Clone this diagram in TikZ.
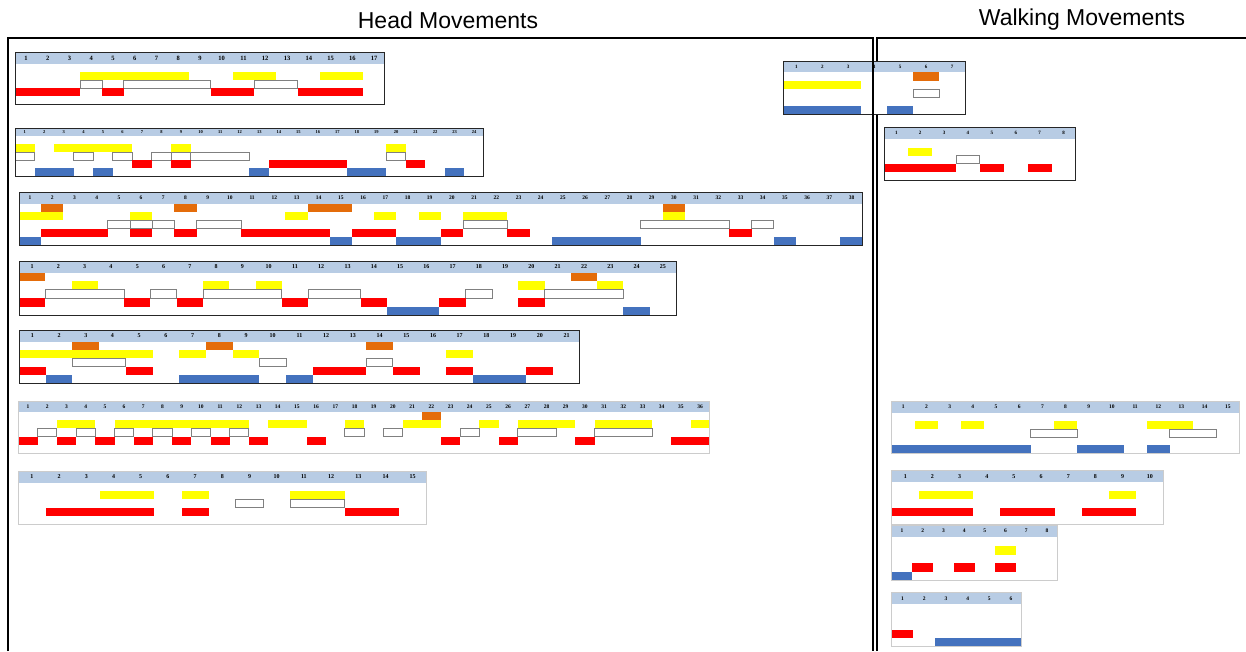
\documentclass[tikz,border=0pt]{standalone}
\usepackage{fontspec}
\setmainfont{Liberation Sans}
\newfontfamily\numfont{Liberation Serif}
\usetikzlibrary{positioning}
\definecolor{hdrblue}{RGB}{184,204,228}
\definecolor{barorange}{RGB}{228,108,10}
\definecolor{baryellow}{RGB}{255,255,0}
\definecolor{barred}{RGB}{255,0,0}
\definecolor{barblue}{RGB}{68,114,190}
\definecolor{boxgray}{RGB}{128,128,128}

% panel geometry: left, top, column width, header height, row height
\newcommand{\setpanel}[5]{\def\pX{#1}\def\pY{#2}\def\pW{#3}\def\pH{#4}\def\pR{#5}}
% one bar: style, row, first column, last column
\newcommand{\seg}[4]{\path[#1] ({\pX+(#3-1)*\pW},{\pY+\pH+(#2-1)*\pR})
  rectangle ({\pX+#4*\pW},{\pY+\pH+#2*\pR});}
% blank panel, then header strip with the column numbers
\newcommand{\panelhead}[3]{%
  \fill[white] (\pX,\pY) rectangle ({\pX+#2*\pW},{\pY+\pH+5*\pR});
  \fill[hdr] (\pX,\pY) rectangle ({\pX+#2*\pW},{\pY+\pH});
  \foreach \i in {1,...,#2}
    \node[num, font=\numfont\bfseries\fontsize{#3}{#3}\selectfont]
      (#1-\i) at ({\pX+(\i-0.5)*\pW},{\pY+\pH/2}) {\i};}
\newcommand{\panelframe}[2]{\draw[#2] (\pX,\pY) rectangle ({\pX+#1*\pW},{\pY+\pH+5*\pR});}

\begin{document}
\begin{tikzpicture}[
  x=1pt, y=-1pt,
  title/.style={font=\fontsize{23}{27}\selectfont},
  hdr/.style={fill=hdrblue},
  num/.style={inner sep=0pt},
  obar/.style={fill=barorange},
  ybar/.style={fill=baryellow},
  wbox/.style={fill=white, draw=boxgray, line width=0.9pt},
  rbar/.style={fill=barred},
  bbar/.style={fill=barblue},
  darkframe/.style={draw=black!85, line width=1pt},
  lightframe/.style={draw=black!20, line width=0.9pt},
  outline/.style={draw=black, line width=1.2pt},
]
\useasboundingbox (0,0) rectangle (1246,651);

\node[title] (headtitle) at (448,20) {Head Movements};
\node[title] (walktitle) at (1082,20) {Walking Movements};

\draw[outline] (877,651) -- (877,38) -- (1246,38);

% head movements
\setpanel{15}{52}{21.76}{12}{8}
\panelhead{ha}{17}{6.5}
\foreach \a/\b in {4/8, 11/12, 15/16} {\seg{ybar}{2}{\a}{\b}}
\foreach \a/\b in {4/4, 6/9, 12/13} {\seg{wbox}{3}{\a}{\b}}
\foreach \a/\b in {1/3, 5/5, 10/11, 14/16} {\seg{rbar}{4}{\a}{\b}}
\panelframe{17}{darkframe}

\setpanel{15}{128}{19.54}{8}{8}
\panelhead{hb}{24}{4.5}
\foreach \a/\b in {1/1, 3/6, 9/9, 20/20} {\seg{ybar}{2}{\a}{\b}}
\foreach \a/\b in {1/1, 4/4, 6/6, 8/8, 9/9, 10/12, 20/20} {\seg{wbox}{3}{\a}{\b}}
\foreach \a/\b in {7/7, 9/9, 14/17, 21/21} {\seg{rbar}{4}{\a}{\b}}
\foreach \a/\b in {2/3, 5/5, 13/13, 18/19, 23/23} {\seg{bbar}{5}{\a}{\b}}
\panelframe{24}{darkframe}

\setpanel{19}{192}{22.2}{12}{8.2}
\panelhead{hc}{38}{5.5}
\foreach \a/\b in {2/2, 8/8, 14/15, 30/30} {\seg{obar}{1}{\a}{\b}}
\foreach \a/\b in {1/2, 6/6, 13/13, 17/17, 19/19, 21/22, 30/30} {\seg{ybar}{2}{\a}{\b}}
\foreach \a/\b in {5/5, 6/6, 7/7, 9/10, 21/22, 29/32, 34/34} {\seg{wbox}{3}{\a}{\b}}
\foreach \a/\b in {2/4, 6/6, 8/8, 11/14, 16/17, 20/20, 23/23, 33/33} {\seg{rbar}{4}{\a}{\b}}
\foreach \a/\b in {1/1, 15/15, 18/19, 25/28, 35/35, 38/38} {\seg{bbar}{5}{\a}{\b}}
\panelframe{38}{darkframe}

\setpanel{19}{261}{26.28}{12}{8.4}
\panelhead{hd}{25}{6}
\foreach \a/\b in {1/1, 22/22} {\seg{obar}{1}{\a}{\b}}
\foreach \a/\b in {3/3, 8/8, 10/10, 20/20, 23/23} {\seg{ybar}{2}{\a}{\b}}
\foreach \a/\b in {2/4, 6/6, 8/10, 12/13, 18/18, 21/23} {\seg{wbox}{3}{\a}{\b}}
\foreach \a/\b in {1/1, 5/5, 7/7, 11/11, 14/14, 17/17, 20/20} {\seg{rbar}{4}{\a}{\b}}
\foreach \a/\b in {15/16, 24/24} {\seg{bbar}{5}{\a}{\b}}
\panelframe{25}{darkframe}

\setpanel{19}{330}{26.71}{12}{8.2}
\panelhead{he}{21}{6}
\foreach \a/\b in {3/3, 8/8, 14/14} {\seg{obar}{1}{\a}{\b}}
\foreach \a/\b in {1/5, 7/7, 9/9, 17/17} {\seg{ybar}{2}{\a}{\b}}
\foreach \a/\b in {3/4, 10/10, 14/14} {\seg{wbox}{3}{\a}{\b}}
\foreach \a/\b in {1/1, 5/5, 12/13, 15/15, 17/17, 20/20} {\seg{rbar}{4}{\a}{\b}}
\foreach \a/\b in {2/2, 7/9, 11/11, 18/19} {\seg{bbar}{5}{\a}{\b}}
\panelframe{21}{darkframe}

\setpanel{18.5}{401}{19.2}{11}{8.2}
\panelhead{hf}{36}{5.5}
\seg{obar}{1}{22}{22}
\foreach \a/\b in {3/4, 6/12, 14/15, 18/18, 21/22, 25/25, 27/29, 31/33, 36/36} {\seg{ybar}{2}{\a}{\b}}
\foreach \a/\b in {2/2, 4/4, 6/6, 8/8, 10/10, 12/12, 18/18, 20/20, 24/24, 27/28, 31/33} {\seg{wbox}{3}{\a}{\b}}
\foreach \a/\b in {1/1, 3/3, 5/5, 7/7, 9/9, 11/11, 13/13, 16/16, 23/23, 26/26, 30/30, 35/36} {\seg{rbar}{4}{\a}{\b}}
\panelframe{36}{lightframe}

\setpanel{18.3}{471}{27.2}{12}{8.2}
\panelhead{hg}{15}{6}
\foreach \a/\b in {4/5, 7/7, 11/12} {\seg{ybar}{2}{\a}{\b}}
\foreach \a/\b in {9/9, 11/12} {\seg{wbox}{3}{\a}{\b}}
\foreach \a/\b in {2/5, 7/7, 13/14} {\seg{rbar}{4}{\a}{\b}}
\panelframe{15}{lightframe}

% walking movements
\setpanel{783.3}{61}{25.96}{11.3}{8.4}
\panelhead{wa}{7}{5}
\seg{obar}{1}{6}{6}
\seg{ybar}{2}{1}{3}
\seg{wbox}{3}{6}{6}
\foreach \a/\b in {1/3, 5/5} {\seg{bbar}{5}{\a}{\b}}
\panelframe{7}{darkframe}

\setpanel{884.3}{127.3}{23.9}{12}{8.2}
\panelhead{wb}{8}{5}
\seg{ybar}{2}{2}{2}
\seg{wbox}{3}{4}{4}
\foreach \a/\b in {1/3, 5/5, 7/7} {\seg{rbar}{4}{\a}{\b}}
\panelframe{8}{darkframe}

\setpanel{891.7}{401}{23.18}{12}{8.1}
\panelhead{wc}{15}{5.5}
\foreach \a/\b in {2/2, 4/4, 8/8, 12/13} {\seg{ybar}{2}{\a}{\b}}
\foreach \a/\b in {7/8, 13/14} {\seg{wbox}{3}{\a}{\b}}
\foreach \a/\b in {1/6, 9/10, 12/12} {\seg{bbar}{5}{\a}{\b}}
\panelframe{15}{lightframe}

\setpanel{891.7}{470}{27.17}{12.3}{8.4}
\panelhead{wd}{10}{6}
\foreach \a/\b in {2/3, 9/9} {\seg{ybar}{2}{\a}{\b}}
\foreach \a/\b in {1/3, 5/6, 8/9} {\seg{rbar}{4}{\a}{\b}}
\panelframe{10}{lightframe}

\setpanel{891.7}{525}{20.7}{12.3}{8.6}
\panelhead{we}{8}{5.5}
\seg{ybar}{2}{6}{6}
\foreach \a/\b in {2/2, 4/4, 6/6} {\seg{rbar}{4}{\a}{\b}}
\seg{bbar}{5}{1}{1}
\panelframe{8}{lightframe}

\setpanel{891.7}{592.3}{21.7}{12}{8.5}
\panelhead{wf}{6}{5.5}
\seg{rbar}{4}{1}{1}
\seg{bbar}{5}{3}{6}
\panelframe{6}{lightframe}

\draw[outline] (8,651) -- (8,38) -- (873,38) -- (873,651);
\end{tikzpicture}
\end{document}
